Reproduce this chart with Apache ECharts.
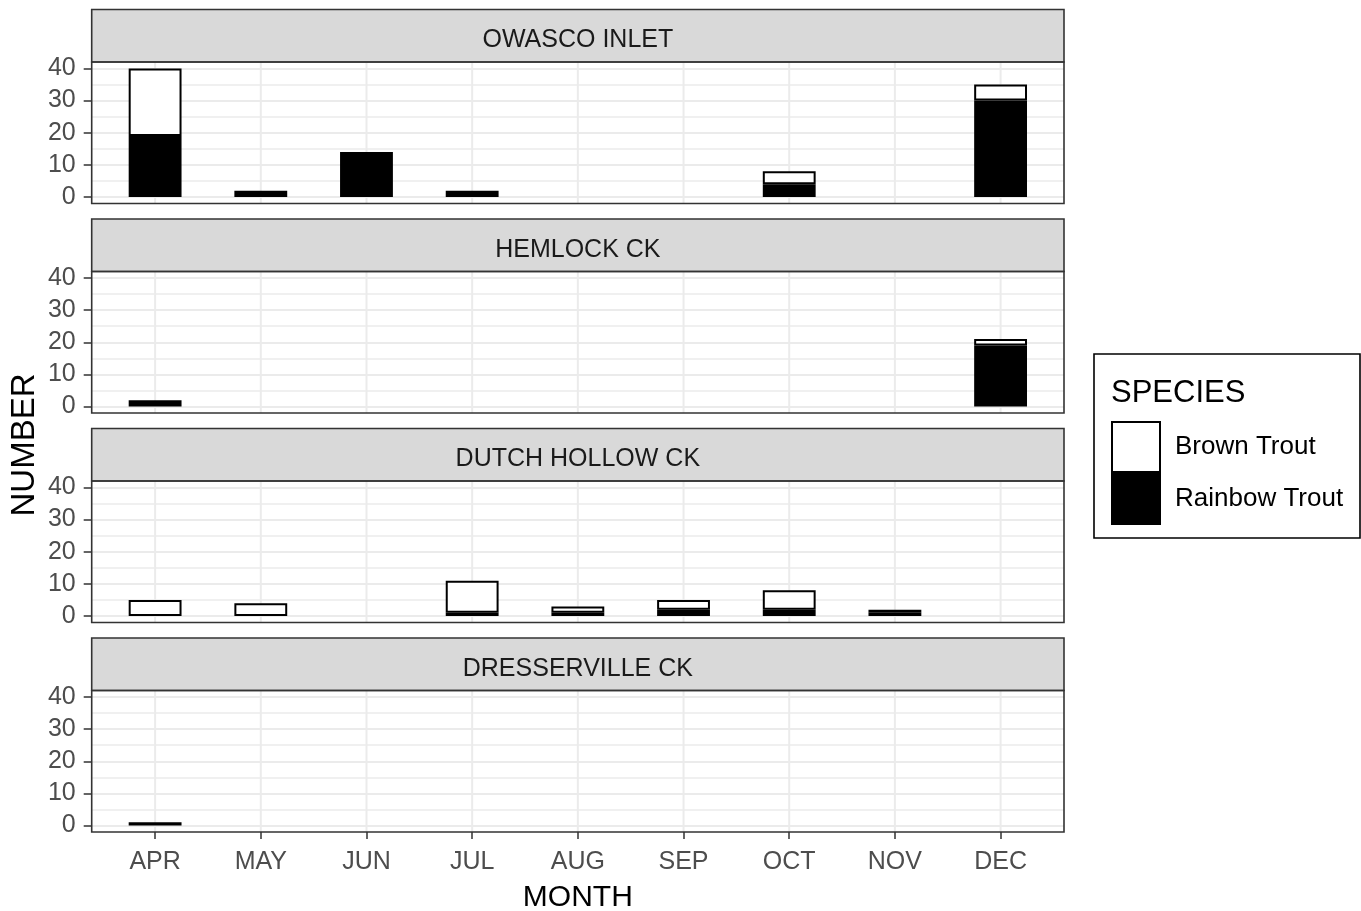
<!DOCTYPE html>
<html><head><meta charset="utf-8">
<script src="https://cdn.jsdelivr.net/npm/echarts@6/dist/echarts.min.js"></script>
<style>html,body{margin:0;padding:0;background:#fff}#c{width:1361px;height:911px}</style>
</head><body><div id="c"></div>
<script>
// ---------- data ----------
const months = ['APR','MAY','JUN','JUL','AUG','SEP','OCT','NOV','DEC'];
const sites = ['OWASCO INLET','HEMLOCK CK','DUTCH HOLLOW CK','DRESSERVILLE CK'];
const speciesNames = ['Brown Trout','Rainbow Trout'];
const yTicks = [0, 10, 20, 30, 40];
// null = no fish recorded that month
const owascoBrown     = [21, null, null, null, null, null, 4, null, 5];
const owascoRainbow   = [19, 2, 14, 2, null, null, 4, null, 30];
const hemlockBrown    = [null, null, null, null, null, null, null, null, 2];
const hemlockRainbow  = [2, null, null, null, null, null, null, null, 19];
const dutchBrown      = [5, 4, null, 10, 2, 3, 6, 1, null];
const dutchRainbow    = [null, null, null, 1, 1, 2, 2, 1, null];
const dresserBrown    = [null, null, null, null, null, null, null, null, null];
const dresserRainbow  = [1, null, null, null, null, null, null, null, null];

const brownBySite = [owascoBrown, hemlockBrown, dutchBrown, dresserBrown];
const rainbowBySite = [owascoRainbow, hemlockRainbow, dutchRainbow, dresserRainbow];

// ---------- layout ----------
const FONT = '"Liberation Sans", Arial, sans-serif';
const L = 91.7, R = 1064, W = R - L;
const X_MIN = -0.6, X_MAX = months.length - 1 + 0.6;
const band = W / (X_MAX - X_MIN);
const STRIP_TOP0 = 9.5, STRIP_H = 52.5, PANEL_H = 141.5, PERIOD = 209.5;
const Y_MAX = yTicks[yTicks.length - 1];
const Y_LO = -0.05 * Y_MAX, Y_HI = Y_MAX * 1.05;
const unit = PANEL_H / (Y_HI - Y_LO);

const grids = [], xAxes = [], yAxes = [], series = [], graphics = [];

sites.forEach((site, i) => {
  const stripTop = STRIP_TOP0 + i * PERIOD;
  const panelTop = stripTop + STRIP_H;
  const isLast = i === sites.length - 1;
  // grid A: full panel width, inner value range 0..40 (grid lines, y labels)
  const ga = grids.length;
  grids.push({left: L, width: W, top: panelTop + (Y_HI - Y_MAX) * unit, height: Y_MAX * unit});
  xAxes.push({type: 'value', gridIndex: ga, min: X_MIN, max: X_MAX, show: false});
  yAxes.push({
    type: 'value', gridIndex: ga, min: 0, max: Y_MAX, interval: 10,
    axisLine: {show: false, onZero: false},
    axisTick: {show: true, length: 8, lineStyle: {color: '#333', width: 1.5}},
    axisLabel: {fontSize: 25, color: '#4d4d4d', margin: 16, fontFamily: FONT, padding: [7, 0, 0, 0]},
    splitLine: {show: true, lineStyle: {color: '#ebebeb', width: 2}},
    minorTick: {show: false, splitNumber: 2},
    minorSplitLine: {show: true, lineStyle: {color: '#ebebeb', width: 1.5}}
  });
  // vertical grid lines at each month, drawn through the axes
  series.push({
    type: 'custom', xAxisIndex: ga, yAxisIndex: ga, silent: true, z: 1, clip: false,
    data: months.map((m, j) => [j, 0]),
    renderItem: (params, api) => {
      const p1 = api.coord([api.value(0), Y_LO]);
      const p2 = api.coord([api.value(0), Y_HI]);
      return {type: 'line', shape: {x1: p1[0], y1: p1[1], x2: p2[0], y2: p2[1]},
              style: {stroke: '#ebebeb', lineWidth: 2}};
    }
  });
  // grid B: category band area, full panel height (bars)
  const gb = grids.length;
  grids.push({left: L + (-0.5 - X_MIN) * band, width: months.length * band, top: panelTop, height: PANEL_H});
  xAxes.push({
    type: 'category', gridIndex: gb, data: months, boundaryGap: true,
    axisLine: {show: false, onZero: false},
    axisTick: {show: isLast, alignWithLabel: true, length: 7, lineStyle: {color: '#333', width: 1.5}},
    axisLabel: {show: isLast, fontSize: 25, color: '#4d4d4d', margin: 18, fontFamily: FONT},
    splitLine: {show: false}
  });
  yAxes.push({type: 'value', gridIndex: gb, show: false, min: Y_LO, max: Y_HI});
  series.push({
    type: 'bar', name: speciesNames[1], stack: 's' + i, xAxisIndex: gb, yAxisIndex: gb,
    barWidth: '50%', z: 2,
    itemStyle: {color: '#000', borderColor: '#000', borderWidth: 2},
    data: rainbowBySite[i]
  });
  series.push({
    type: 'bar', name: speciesNames[0], stack: 's' + i, xAxisIndex: gb, yAxisIndex: gb,
    barWidth: '50%', z: 2,
    itemStyle: {color: '#fff', borderColor: '#000', borderWidth: 2},
    data: brownBySite[i]
  });
  // strip
  graphics.push({type: 'rect', z: 100, shape: {x: L, y: stripTop, width: W, height: STRIP_H},
    style: {fill: '#d9d9d9', stroke: '#333', lineWidth: 1.6}});
  graphics.push({type: 'text', z: 101, x: (L + R) / 2, y: stripTop + STRIP_H / 2 + 4.5,
    style: {text: site, fontSize: 25, fontFamily: FONT, fill: '#1a1a1a', align: 'center', verticalAlign: 'middle'}});
  // panel border
  graphics.push({type: 'rect', z: 100, shape: {x: L, y: panelTop, width: W, height: PANEL_H},
    style: {fill: 'none', stroke: '#333', lineWidth: 1.6}});
});

// axis titles
graphics.push({type: 'text', z: 101, x: (L + R) / 2, y: 898,
  style: {text: 'MONTH', fontSize: 30, fontFamily: FONT, fill: '#000', align: 'center', verticalAlign: 'middle'}});
graphics.push({type: 'text', z: 101, x: 25, y: 445, rotation: Math.PI / 2,
  style: {text: 'NUMBER', fontSize: 33, fontFamily: FONT, fill: '#000', align: 'center', verticalAlign: 'middle'}});
// legend box + title
graphics.push({type: 'rect', z: 0, shape: {x: 1094, y: 354, width: 266, height: 184},
  style: {fill: '#fff', stroke: '#000', lineWidth: 1.6}});
graphics.push({type: 'text', z: 101, x: 1111, y: 393,
  style: {text: 'SPECIES', fontSize: 31, fontFamily: FONT, fill: '#000', align: 'left', verticalAlign: 'middle'}});

const chart = echarts.init(document.getElementById('c'), null, {renderer: 'canvas'});
chart.setOption({
  backgroundColor: '#fff',
  animation: false,
  grid: grids,
  xAxis: xAxes,
  yAxis: yAxes,
  legend: {
    orient: 'vertical', left: 1111, top: 421, padding: 0, itemGap: 0,
    itemWidth: 48, itemHeight: 50, icon: 'rect', selectedMode: false, z: 50,
    data: [
      {name: speciesNames[0], itemStyle: {color: '#fff', borderColor: '#000', borderWidth: 2}},
      {name: speciesNames[1], itemStyle: {color: '#000', borderColor: '#000', borderWidth: 2}}
    ],
    textStyle: {fontSize: 26, color: '#000', fontFamily: FONT, padding: [6, 0, 0, 10]}
  },
  graphic: graphics,
  series: series
});
</script></body></html>
